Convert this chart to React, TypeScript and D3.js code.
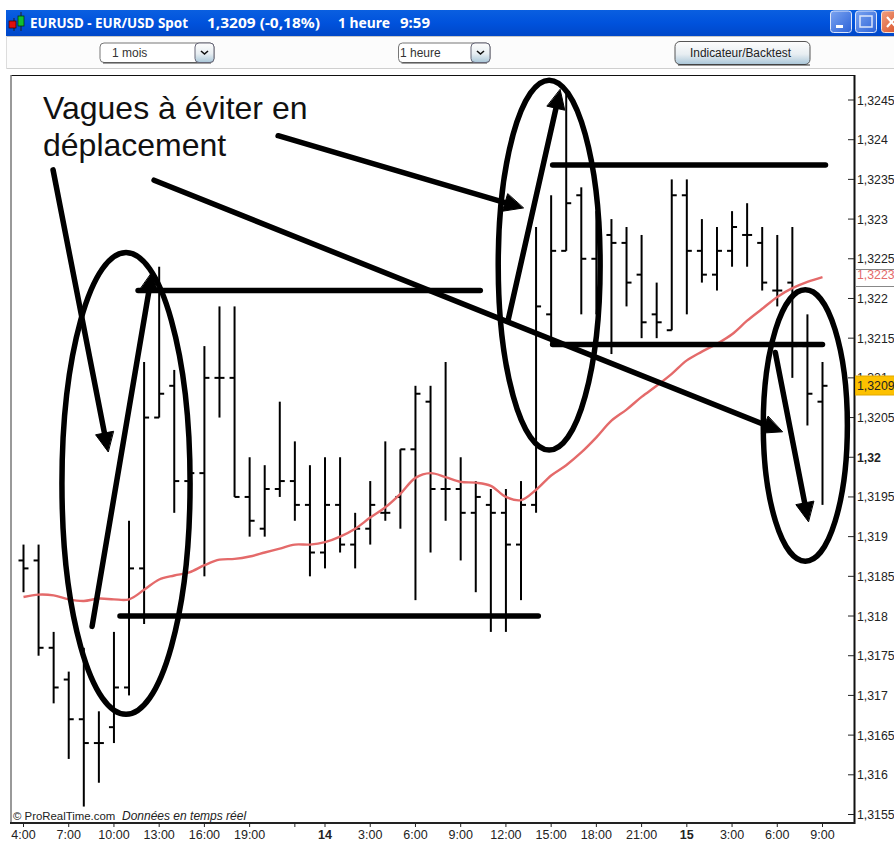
import React from "react";
import * as d3 from "d3";

// Prices are expressed in pips (1.3245 = 13245)
const highs = [13189,13189,13178,13173,13176,13168,13178,13192,13212,13224,13211,13202,13214,13219,13219,13200,13199,13207,13202,13199,13200,13200,13193,13197,13202,13201,13209,13209,13212,13200,13197,13196,13196,13197,13229,13233,13246,13234,13231,13230,13229,13228,13222,13235,13235,13230,13229,13231,13232,13229,13228,13229,13218,13212];
const lows = [13183,13175,13169,13162,13156,13159,13164,13170,13179,13205,13193,13192,13185,13205,13195,13190,13190,13195,13192,13185,13186,13188,13186,13189,13192,13191,13182,13188,13192,13187,13183,13178,13178,13182,13193,13214,13226,13218,13218,13213,13219,13215,13215,13216,13218,13222,13221,13224,13224,13221,13219,13210,13204,13194];
const opens = [13187,13187,13176,13172,13167,13164,13166,13171,13186,13205,13209,13197,13198,13210,13210,13195,13191,13196,13197,13194,13188,13194,13189,13191,13193,13195,13201,13207,13196,13196,13193,13194,13193,13189,13194,13218,13226,13233,13225,13228,13227,13223,13218,13216,13233,13226,13223,13226,13228,13227,13221,13222,13214,13207];
const closes = [13186,13176,13171,13167,13164,13164,13171,13186,13205,13208,13197,13198,13210,13210,13195,13192,13196,13197,13194,13188,13194,13189,13191,13194,13193,13201,13208,13196,13196,13193,13195,13193,13189,13194,13219,13226,13232,13225,13228,13227,13222,13217,13217,13233,13226,13223,13226,13229,13228,13222,13221,13214,13208,13209];
const movingAverage = [13182.4,13182.7,13182.6,13182.1,13181.9,13182.2,13182.1,13182.1,13183.3,13184.6,13185.1,13185.5,13186.4,13187.1,13187.2,13187.5,13188,13188.5,13189,13189,13189.3,13190,13191,13192.4,13193.7,13195.4,13197.4,13198,13197.5,13196.9,13196.8,13196.4,13195,13194.6,13195.9,13197.7,13199,13200.6,13202.5,13204.6,13206,13207.6,13209,13210.5,13212.2,13213.3,13214.3,13215.5,13217.2,13218.7,13220.2,13221.3,13222.1,13222.7];

const xTickLabels = ["4:00","7:00","10:00","13:00","16:00","19:00","","14","3:00","6:00","9:00","12:00","15:00","18:00","21:00","15","3:00","6:00","9:00"];
const xTickIndex = [0,3,6,9,12,15,18,20,23,26,29,32,35,38,41,44,47,50,53];
const yTickValues = [13245,13240,13235,13230,13225,13220,13215,13210,13205,13200,13195,13190,13185,13180,13175,13170,13165,13160,13155];
const yTickLabels = ["1,3245","1,324","1,3235","1,323","1,3225","1,322","1,3215","1,321","1,3205","1,32","1,3195","1,319","1,3185","1,318","1,3175","1,317","1,3165","1,316","1,3155"];

// Hand-drawn annotations, in chart units [bar, pips]
const levelLines = [
  [7.6, 30.3, 13221],
  [6.4, 34.15, 13180],
  [35.1, 53.2, 13236.8],
  [35.1, 53, 13214.2],
];
const arrows = [
  [1.96, 13236.2, 5.61, 13200.7],
  [4.55, 13178.7, 8.53, 13223.3],
  [16.89, 13240.5, 33.15, 13231.4],
  [8.66, 13234.9, 50.33, 13203.2],
  [32.15, 13217.3, 35.6, 13246.3],
  [49.87, 13213.2, 52.06, 13191.9],
];
const ellipses = [
  [6.8, 13196.7, 4.25, 29.08],
  [34.87, 13224.2, 3.38, 23.3],
  [51.86, 13204, 2.79, 17.1],
];

const sans = "'Liberation Sans', Arial, sans-serif";
const ui = "'Noto Sans', 'DejaVu Sans', sans-serif";

function Select({ x, w, label, lx }: { x: number; w: number; label: string; lx: number }) {
  return (
    <g>
      <rect x={x} y={43} width={w} height={19.5} rx={4} fill="#fff" stroke="#777" strokeWidth={1} />
      <line x1={x + 3} x2={x + w - 3} y1={63} y2={63} stroke="#444" strokeWidth={1} />
      <rect x={x + w - 19} y={43} width={19} height={19.5} rx={4} fill="url(#btn)" stroke="#667" strokeWidth={1} />
      <path d={`M${x + w - 13},51 l3.5,3 l3.5,-3`} fill="none" stroke="#111" strokeWidth={1.6} />
      <text x={lx} y={57} fontFamily={sans} fontSize={12} fill="#333">{label}</text>
    </g>
  );
}

export default function App() {
  const x = d3.scaleLinear().domain([0, 53]).range([23.5, 822.5]);
  const y = d3.scaleLinear().domain([13155, 13245]).range([814.5, 100]);
  const maLine = d3.line<number>().x((_, i) => x(i)).y((d) => y(d)).curve(d3.curveCatmullRom.alpha(0.5))(movingAverage) || "";
  const kx = x(1) - x(0);
  const ky = y(13155) - y(13156);

  return (
    <svg width={894} height={841} style={{ position: "absolute", left: 0, top: 0, background: "#fff" }}>
      <defs>
        <linearGradient id="title" x1="0" x2="0" y1="0" y2="1">
          <stop offset="0" stopColor="#0a5fe0" />
          <stop offset="0.5" stopColor="#0052dc" />
          <stop offset="1" stopColor="#0047c8" />
        </linearGradient>
        <linearGradient id="btn" x1="0" x2="0" y1="0" y2="1">
          <stop offset="0" stopColor="#fdfdfd" />
          <stop offset="0.55" stopColor="#e8eef2" />
          <stop offset="1" stopColor="#a9c6d8" />
        </linearGradient>
        <linearGradient id="win" x1="0" x2="1" y1="0" y2="1">
          <stop offset="0" stopColor="#7ba4f0" />
          <stop offset="1" stopColor="#2c62d8" />
        </linearGradient>
        <linearGradient id="close" x1="0" x2="1" y1="0" y2="1">
          <stop offset="0" stopColor="#f0a080" />
          <stop offset="1" stopColor="#d84a20" />
        </linearGradient>
      </defs>

      {/* Title bar */}
      <rect x={6} y={10} width={888} height={26} fill="url(#title)" />
      <line x1={14} x2={14} y1={18} y2={31} stroke="#222" />
      <rect x={9} y={21} width={7} height={7} fill="#e01010" stroke="#300" strokeWidth={0.7} />
      <line x1={21} x2={21} y1={12} y2={31} stroke="#222" />
      <rect x={18} y={16} width={6} height={10} fill="#10c030" stroke="#030" strokeWidth={0.7} />
      <g fontFamily={ui} fontWeight={700} fontSize={14} fill="#fff">
        <text x={30} y={28} textLength={158} lengthAdjust="spacingAndGlyphs">EURUSD - EUR/USD Spot</text>
        <text x={207} y={28} textLength={113} lengthAdjust="spacingAndGlyphs">1,3209 (-0,18%)</text>
        <text x={338} y={28} textLength={52} lengthAdjust="spacingAndGlyphs">1 heure</text>
        <text x={400} y={28} textLength={30} lengthAdjust="spacingAndGlyphs">9:59</text>
      </g>
      <rect x={830.5} y={11} width={21} height={21.5} rx={3} fill="url(#win)" stroke="#dde6fa" />
      <rect x={836} y={25} width={7} height={3} fill="#fff" />
      <rect x={855.5} y={11} width={21} height={21.5} rx={3} fill="url(#win)" stroke="#dde6fa" />
      <rect x={860} y={16} width={12} height={11} fill="none" stroke="#dde6fa" strokeWidth={1.5} />
      <rect x={881.5} y={11} width={20} height={21.5} rx={3} fill="url(#close)" stroke="#f5e0d5" />
      <path d="M887,17 L896,27 M896,17 L887,27" stroke="#fff" strokeWidth={2.2} />

      {/* Toolbar */}
      <rect x={6} y={36} width={888} height={33} fill="#fcfcfc" />
      <line x1={6} x2={894} y1={36.5} y2={36.5} stroke="#c8c8c8" />
      <line x1={6} x2={894} y1={68.5} y2={68.5} stroke="#cfcfcf" />
      <line x1={6.5} x2={6.5} y1={36} y2={69} stroke="#ddd" />
      <Select x={100} w={114} label="1 mois" lx={112} />
      <Select x={398.5} w={91.5} label="1 heure" lx={400} />
      <rect x={675} y={41.5} width={135} height={23} rx={5} fill="url(#btn)" stroke="#555" />
      <line x1={678} x2={810} y1={65} y2={65} stroke="#333" />
      <text x={690} y={57} fontFamily={sans} fontSize={12} fill="#222" textLength={101} lengthAdjust="spacingAndGlyphs">Indicateur/Backtest</text>

      {/* Plot frame */}
      <line x1={11} x2={855} y1={75.5} y2={75.5} stroke="#111" strokeWidth={1} />
      <line x1={11} x2={11} y1={75} y2={824} stroke="#777" strokeWidth={1.5} />
      <line x1={854.5} x2={854.5} y1={75} y2={824} stroke="#111" strokeWidth={2} />
      <line x1={10} x2={855} y1={823} y2={823} stroke="#222" strokeWidth={2} />

      {/* OHLC bars */}
      <g stroke="#000" strokeWidth={2}>
        {highs.map((h, i) => (
          <g key={i}>
            <line x1={x(i)} x2={x(i)} y1={y(h)} y2={y(lows[i])} />
            <line x1={x(i) - 5} x2={x(i)} y1={y(opens[i])} y2={y(opens[i])} />
            <line x1={x(i)} x2={x(i) + 5} y1={y(closes[i])} y2={y(closes[i])} />
          </g>
        ))}
      </g>

      {/* Moving average */}
      <path d={maLine} fill="none" stroke="#e46a6a" strokeWidth={2.4} />

      {/* Y axis */}
      {yTickValues.map((v, i) => (
        <g key={v}>
          <line x1={848} x2={854} y1={y(v)} y2={y(v)} stroke="#222" />
          <text x={857} y={y(v) + 4.5} fontFamily={sans} fontSize={12.3} fontWeight={v === 13200 ? 700 : 400} fill="#222">
            {yTickLabels[i]}
          </text>
        </g>
      ))}
      <rect x={855.5} y={269.5} width={39} height={17} fill="#fff" stroke="#888" />
      <text x={857} y={y(13223) + 4.5} fontFamily={sans} fontSize={12.3} fill="#e46a6a">1,3223</text>
      <rect x={855.5} y={376} width={39} height={19} fill="#fdc100" stroke="#e0a800" />
      <text x={857} y={y(13209) + 4} fontFamily={sans} fontSize={12.3} fill="#222">1,3209</text>

      {/* X axis */}
      {xTickIndex.map((b, i) => (
        <g key={b}>
          <line x1={x(b)} x2={x(b)} y1={823} y2={827} stroke="#222" />
          <text x={x(b)} y={839} textAnchor="middle" fontFamily={sans} fontSize={12.5} fontWeight={xTickLabels[i].length === 2 ? 700 : 400} fill="#222">
            {xTickLabels[i]}
          </text>
        </g>
      ))}

      <text x={13} y={820} fontFamily={sans} fontSize={11.4} fill="#222">© ProRealTime.com</text>
      <text x={122} y={820} fontFamily={sans} fontSize={12} fontStyle="italic" fill="#222">Données en temps réel</text>

      {/* Annotations */}
      <g fill="none" stroke="#000" strokeWidth={5.5} strokeLinecap="round">
        {levelLines.map(([a, b, p], i) => (
          <line key={i} x1={x(a)} x2={x(b)} y1={y(p)} y2={y(p)} />
        ))}
        {ellipses.map(([c, p, rx, ry], i) => (
          <ellipse key={i} cx={x(c)} cy={y(p)} rx={rx * kx} ry={ry * ky} />
        ))}
        {arrows.map(([a, p, b, q], i) => {
          const x1 = x(a), y1 = y(p), x2 = x(b), y2 = y(q);
          const ang = Math.atan2(y2 - y1, x2 - x1);
          const ux = Math.cos(ang), uy = Math.sin(ang);
          const L = 19, W = 9;
          const bx = x2 - ux * L, by = y2 - uy * L;
          return (
            <g key={i}>
              <line x1={x1} y1={y1} x2={bx} y2={by} />
              <path
                d={`M${x2},${y2} L${bx - uy * W},${by + ux * W} L${bx + uy * W},${by - ux * W} Z`}
                fill="#000" stroke="#000" strokeWidth={1} strokeLinejoin="round"
              />
            </g>
          );
        })}
      </g>
      <g fontFamily={sans} fontSize={32} fill="#111">
        <text x={43} y={119}>Vagues à éviter en</text>
        <text x={43} y={156}>déplacement</text>
      </g>
    </svg>
  );
}
